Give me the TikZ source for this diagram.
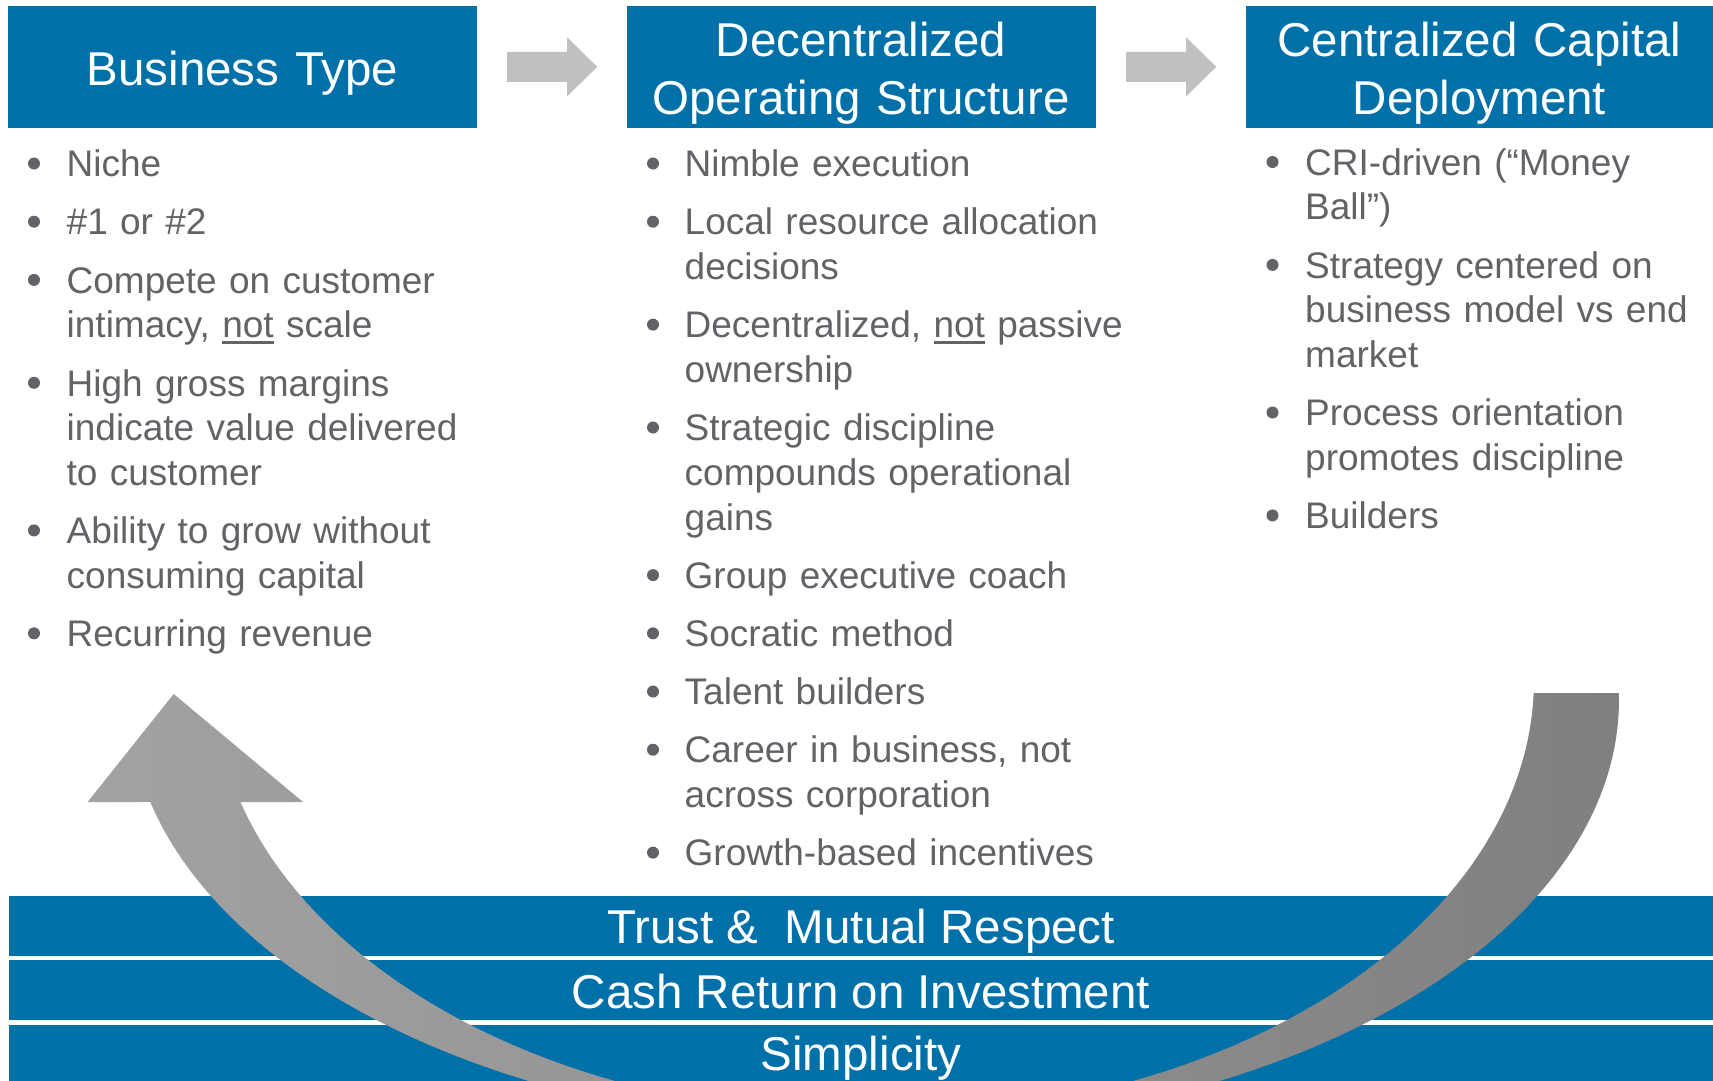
\documentclass[tikz,border=0pt]{standalone}
\usepackage{fontspec}
\setmainfont{Liberation Sans}
\usetikzlibrary{calc}

\definecolor{hdrblue}{RGB}{0,112,168}
\definecolor{txtgray}{RGB}{98,99,103}
\definecolor{flowgray}{RGB}{192,192,192}
\definecolor{loopl}{RGB}{162,162,162}
\definecolor{loopd}{RGB}{128,128,128}

% underlined word with a thick rule just below the baseline
\newcommand\undl[1]{\setbox0\hbox{#1}\rlap{\rule[-6.2pt]{\wd0}{2.8pt}}\box0\relax}
% bullet item: name, bullet x, text x, first baseline y, text
\newcommand\bitem[5]{%
  \node[bulletdot] (#1d) at (#2,#4-13.2) {};
  \node[itemtext] (#1) at (#3,#4) {#5};}

\begin{document}
\begin{tikzpicture}[x=1pt,y=-1pt,
  hdrbox/.style={fill=hdrblue, draw=none, inner sep=0pt, minimum width=469pt, minimum height=121.7pt},
  hdrtext/.style={text=white, font=\fontsize{47.5}{58}\selectfont, text width=468pt, align=center, inner sep=0pt, anchor=base},
  bandbox/.style={fill=hdrblue, draw=none, inner sep=0pt, minimum width=1704pt, minimum height=60pt},
  bandtext/.style={text=white, font=\fontsize{47.5}{58}\selectfont, inner sep=0pt, anchor=base},
  itemtext/.style={text=txtgray, font=\fontsize{37}{44.7}\selectfont, text width=470pt, align=left, inner sep=0pt, anchor=base west},
  bulletdot/.style={circle, fill=txtgray, minimum size=12pt, inner sep=0pt},
  flowarrow/.style={fill=flowgray, draw=none},
]
\path[use as bounding box] (0,0) rectangle (1713,1081);
\fill[white] (0,0) rectangle (1713,1081);
\clip (0,0) rectangle (1713,1081);

% header boxes
\node[hdrbox] (h1) at (242.5,66.85) {};
\node[hdrbox] (h2) at (861.5,66.85) {};
\node[hdrbox] (h3) at (1480.5,66.85) {};
\node[hdrtext] (t1) at (242.5,85) {Business Type};
\node[hdrtext] (t2) at (861,56.5) {Decentralized\\Operating Structure};
\node[hdrtext] (t3) at (1479.5,56.5) {Centralized Capital\\Deployment};

% block arrows between the headers
\path (h1.east) ++(30,0) coordinate (a1s);
\path (h2.east) ++(30,0) coordinate (a2s);
\foreach \s in {a1s,a2s}
  \fill[flowarrow] (\s) ++(0,-15) -- ++(60,0) -- ++(0,-14.5) -- ++(30,29.5)
    -- ++(-30,29.5) -- ++(0,-14.5) -- ++(-60,0) -- cycle;

% column 1
\bitem{ca}{34}{66.5}{176.7}{Niche}
\bitem{cb}{34}{66.5}{234.9}{\#1 or \#2}
\bitem{cc}{34}{66.5}{293.1}{Compete on customer\\intimacy, \undl{not} scale}
\bitem{cd}{34}{66.5}{396.0}{High gross margins\\indicate value delivered\\to customer}
\bitem{ce}{34}{66.5}{543.6}{Ability to grow without\\consuming capital}
\bitem{cf}{34}{66.5}{646.5}{Recurring revenue}

% column 2
\bitem{da}{653}{684.5}{176.7}{Nimble execution}
\bitem{db}{653}{684.5}{234.9}{Local resource allocation\\decisions}
\bitem{dc}{653}{684.5}{337.8}{Decentralized, \undl{not} passive\\ownership}
\bitem{dd}{653}{684.5}{440.7}{Strategic discipline\\compounds operational\\gains}
\bitem{de}{653}{684.5}{588.3}{Group executive coach}
\bitem{df}{653}{684.5}{646.5}{Socratic method}
\bitem{dg}{653}{684.5}{704.7}{Talent builders}
\bitem{dh}{653}{684.5}{762.9}{Career in business, not\\across corporation}
\bitem{di}{653}{684.5}{865.8}{Growth-based incentives}

% column 3
\bitem{ea}{1272.5}{1305}{175.2}{CRI-driven (“Money\\Ball”)}
\bitem{eb}{1272.5}{1305}{278.1}{Strategy centered on\\business model vs end\\market}
\bitem{ec}{1272.5}{1305}{425.7}{Process orientation\\promotes discipline}
\bitem{ed}{1272.5}{1305}{528.6}{Builders}

% foundation bands
\node[bandbox] (b1) at (861,926) {};
\node[bandbox] (b2) at (861,990.3) {};
\node[bandbox] (b3) at (861,1054.6) {};
\node[bandtext] (bt1) at ($(b1.north)+(0,47.3)$) {Trust \&\ \ Mutual Respect};
\node[bandtext] (bt2) at ($(b2.north)+(0,48)$) {Cash Return on Investment};
\node[bandtext] (bt3) at ($(b3.north)+(0,46.4)$) {Simplicity};

% curved return arrow, tapering toward the bottom
\shade[left color=loopl, right color=loopd]
  plot[domain=-0.93:166.28, samples=160] ({874+745*cos(\x)},{700+430*sin(\x)})
  -- (87.6,802) -- (173.7,694) -- (303,802)
  -- plot[domain=163.75:1.71, samples=160] ({874+660*cos(\x)},{680+436*sin(\x)})
  -- cycle;
\end{tikzpicture}
\end{document}
